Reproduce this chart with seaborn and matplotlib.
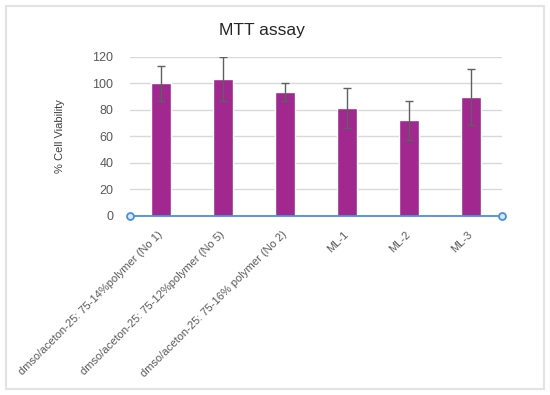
import matplotlib
matplotlib.use("Agg")
import matplotlib.pyplot as plt
from matplotlib.patches import FancyBboxPatch
import seaborn as sns
import pandas as pd

categories = [
    "dmso/aceton-25: 75-14%polymer (No 1)",
    "dmso/aceton-25: 75-12%polymer (No 5)",
    "dmso/aceton-25: 75-16% polymer (No 2)",
    "ML-1",
    "ML-2",
    "ML-3",
]
viability = [100, 103, 93.5, 81.5, 72, 89.5]
errors = [13, 16.5, 6.5, 15, 14.5, 21]
yticks = [0, 20, 40, 60, 80, 100, 120]

sns.set_theme(style="white")
plt.rcParams['font.family'] = ['Liberation Sans', 'DejaVu Sans']

fig = plt.figure(figsize=(5.5, 3.95), dpi=100)
# light border
fig.patches.append(FancyBboxPatch((6/550, 6/395), 538/550, 383/395,
                                  boxstyle="square,pad=0", transform=fig.transFigure,
                                  fill=False, edgecolor="#E3E3E3", linewidth=1.5))

ax = fig.add_axes([130/550, (395-216)/395, 372/550, (216-56.7)/395])
df = pd.DataFrame({"cat": categories, "val": viability})
sns.barplot(data=df, x="cat", y="val", color="#A0288F", saturation=1,
            width=0.31, ax=ax, errorbar=None)
ax.errorbar(range(len(categories)), viability, yerr=errors, fmt="none",
            ecolor="#606060", elinewidth=1, capsize=3, capthick=1, zorder=5)

ax.set_ylim(0, 120)
ax.set_xlim(-0.5, len(categories) - 0.5)
ax.set_yticks(yticks)
ax.set_yticklabels([str(t) for t in yticks], fontsize=9, color="#595959")
ax.yaxis.grid(True, color="#D9D9D9", linewidth=1)
ax.set_axisbelow(True)
for s in ax.spines.values():
    s.set_visible(False)
ax.tick_params(axis="both", length=0)
ax.tick_params(axis="y", pad=12)

ax.set_xticks(range(len(categories)))
ax.set_xticklabels(categories, rotation=45, ha="right", va="center",
                   rotation_mode="anchor", fontsize=8, color="#595959")
ax.tick_params(axis="x", pad=12)
ax.set_xlabel("")
ax.set_ylabel("% Cell Viability", fontsize=8, color="#404040", labelpad=20)

# blue axis line with circle endpoints
ax.plot([0, 1], [0, 0], transform=ax.transAxes, color="#4A90D9", linewidth=1.3,
        marker="o", markersize=5, markerfacecolor="#D6E8FA",
        markeredgecolor="#4A90D9", markeredgewidth=1.3, clip_on=False, zorder=6)

fig.text(262/550, 1 - 30/395, "MTT assay", ha="center", va="center",
         fontsize=12.5, color="#262626")

fig.savefig("out.png", dpi=100)
